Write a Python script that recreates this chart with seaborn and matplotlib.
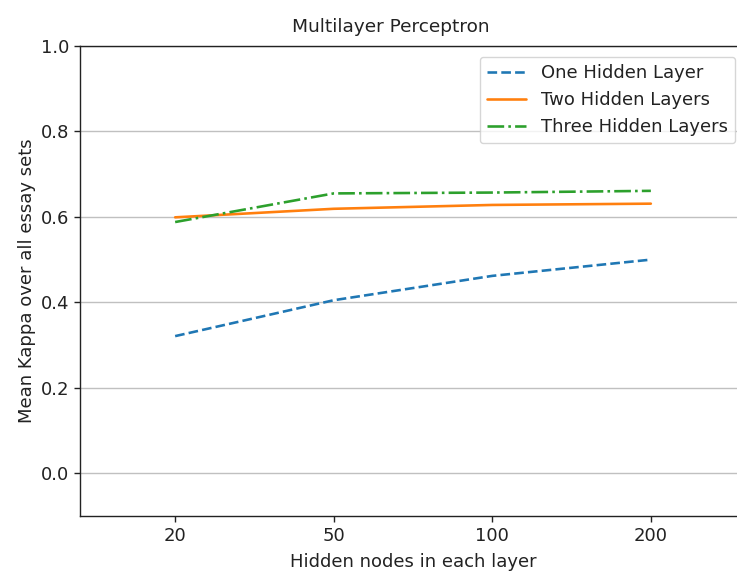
import matplotlib
matplotlib.use("Agg")
import matplotlib.pyplot as plt
import seaborn as sns
import pandas as pd

nodes = ["20", "50", "100", "200"]
one_layer = [0.321, 0.405, 0.462, 0.500]
two_layers = [0.599, 0.619, 0.628, 0.631]
three_layers = [0.588, 0.655, 0.657, 0.661]

series = [
    ("One Hidden Layer", one_layer, "#1f77b4", "--"),
    ("Two Hidden Layers", two_layers, "#ff7f0e", "-"),
    ("Three Hidden Layers", three_layers, "#2ca02c", "-."),
]

sns.set_style("ticks")
plt.rcParams["font.family"] = ["DejaVu Sans"]
s = 1.25
fs = 13
plt.rcParams.update({
    "font.size": fs,
    "axes.linewidth": 0.8 * s,
    "xtick.major.width": 0.8 * s,
    "ytick.major.width": 0.8 * s,
    "xtick.major.size": 3.5 * s,
    "ytick.major.size": 3.5 * s,
    "axes.edgecolor": "#222222",
    "text.color": "#222222",
    "axes.labelcolor": "#222222",
    "xtick.color": "#222222",
    "ytick.color": "#222222",
})

fig = plt.figure(figsize=(7.37, 5.71), dpi=100)
W, H = 737, 571
left, right, top, bottom = 80, 746, 46, 516
ax = fig.add_axes([left / W, (H - bottom) / H, (right - left) / W, (bottom - top) / H])

for name, vals, color, ls in series:
    df = pd.DataFrame({"nodes": nodes, "kappa": vals})
    sns.lineplot(data=df, x="nodes", y="kappa", ax=ax, color=color,
                 linestyle=ls, linewidth=1.5 * s, label=name)

ax.set_xlim(-0.6, 3.6)
ax.set_ylim(-0.1, 1.0)
ax.set_yticks([0.0, 0.2, 0.4, 0.6, 0.8, 1.0])
ax.yaxis.grid(True, color="#c0c0c0", linewidth=0.8 * s)
ax.xaxis.grid(False)
ax.set_axisbelow(True)
ax.tick_params(labelsize=fs)
ax.set_title("Multilayer Perceptron", fontsize=13.3, pad=10,
             x=(391 - left) / (right - left))
ax.set_xlabel("Hidden nodes in each layer", fontsize=fs, labelpad=6)
ax.set_ylabel("Mean Kappa over all essay sets", fontsize=fs, labelpad=3)
leg = ax.legend(loc="upper right", fontsize=fs, frameon=True, fancybox=True,
                framealpha=0.8, edgecolor="#cccccc", borderaxespad=0.6,
                handlelength=2.2)

fig.savefig("out.png", dpi=100)
